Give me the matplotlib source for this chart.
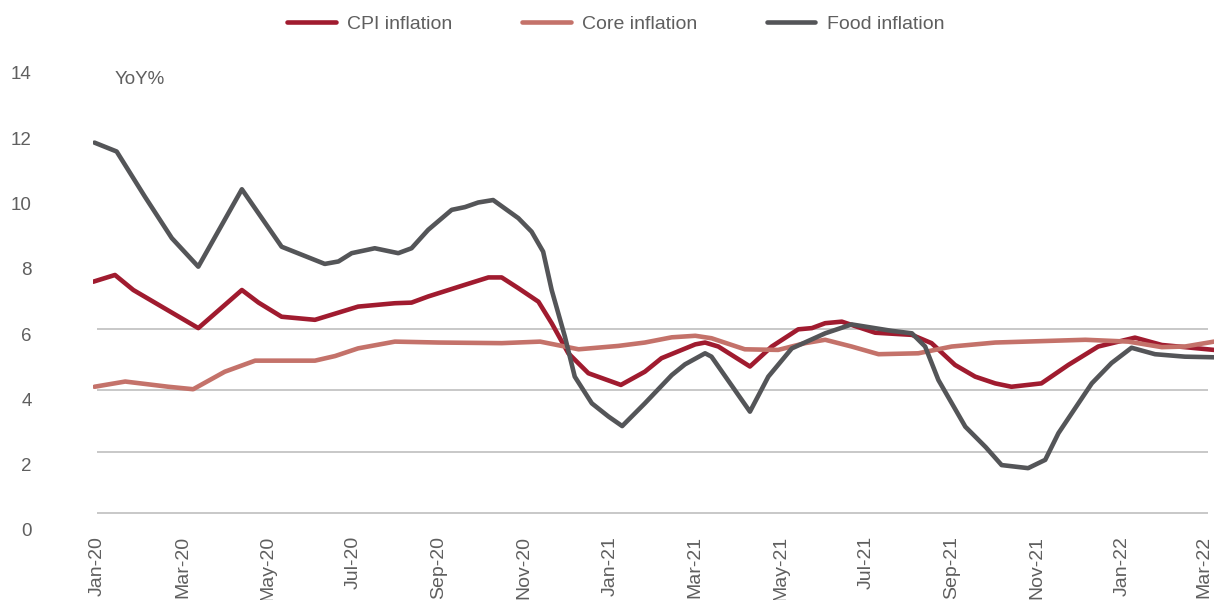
import numpy as np
import matplotlib.pyplot as plt
from matplotlib.transforms import ScaledTranslation

# month index from Jan-20 (0) to Mar-22 (26)
tick_pos = list(range(0, 27, 2))
tick_labels = ['Jan-20', 'Mar-20', 'May-20', 'Jul-20', 'Sep-20', 'Nov-20', 'Jan-21',
               'Mar-21', 'May-21', 'Jul-21', 'Sep-21', 'Nov-21', 'Jan-22', 'Mar-22']

cpi_x = [-0.09, 0.42, 0.85, 2.37, 3.39, 3.78, 4.32, 5.1, 6.11, 6.97, 7.36, 7.75, 8.61,
         9.16, 9.47, 9.86, 10.33, 10.64, 11.03, 11.5, 12.26, 12.82, 13.21, 14.0, 14.23,
         14.54, 15.28, 15.79, 16.41, 16.73, 17.04, 17.43, 18.21, 19.07, 19.53, 20.08,
         20.55, 21.02, 21.4, 22.1, 22.73, 23.43, 24.29, 24.92, 25.46, 26.14]
cpi_y = [7.54, 7.76, 7.27, 6.03, 7.27, 6.86, 6.4, 6.3, 6.73, 6.84, 6.86, 7.06, 7.44,
         7.68, 7.68, 7.33, 6.89, 6.19, 5.21, 4.56, 4.18, 4.61, 5.05, 5.5, 5.56,
         5.43, 4.78, 5.43, 5.99, 6.03, 6.19, 6.24, 5.88, 5.81, 5.54, 4.83,
         4.45, 4.23, 4.12, 4.23, 4.83, 5.43, 5.72, 5.48, 5.41, 5.32]

core_x = [-0.06, 0.66, 1.67, 2.25, 2.99, 3.7, 5.1, 5.57, 6.11, 6.97, 8.0, 9.47, 10.37,
          11.27, 12.2, 12.82, 13.45, 14.0, 14.38, 15.16, 15.94, 16.57, 17.04, 17.66,
          18.29, 19.22, 20.0, 21.02, 23.13, 24.14, 24.92, 25.46, 26.14]
core_y = [4.12, 4.29, 4.12, 4.04, 4.61, 4.97, 4.97, 5.12, 5.37, 5.59, 5.56, 5.54, 5.59,
          5.34, 5.45, 5.56, 5.73, 5.78, 5.7, 5.34, 5.32, 5.54, 5.65, 5.43,
          5.18, 5.21, 5.43, 5.56, 5.65, 5.59, 5.41, 5.43, 5.59]

food_x = [-0.06, 0.46, 1.12, 1.75, 2.37, 3.39, 4.32, 5.33, 5.65, 5.96, 6.5, 7.05, 7.36,
          7.75, 8.3, 8.61, 8.92, 9.27, 9.86, 10.17, 10.44, 10.64, 10.95, 11.18, 11.58,
          11.97, 12.29, 12.82, 13.45, 13.76, 14.23, 14.38, 15.28, 15.71, 16.26, 17.04,
          17.66, 18.6, 19.07, 19.38, 19.69, 20.32, 20.8, 21.17, 21.79, 22.19, 22.5,
          23.28, 23.74, 24.21, 24.76, 25.46, 26.14]
food_y = [12.07, 11.78, 10.31, 8.96, 8.03, 10.55, 8.68, 8.12, 8.2, 8.47, 8.63, 8.47, 8.63,
          9.23, 9.88, 9.97, 10.12, 10.2, 9.61, 9.17, 8.52, 7.27, 5.75, 4.45, 3.58,
          3.15, 2.84, 3.58, 4.5, 4.85, 5.21, 5.1, 3.31, 4.45, 5.37, 5.86,
          6.15, 5.94, 5.86, 5.43, 4.34, 2.82, 2.15, 1.57, 1.47, 1.74, 2.61,
          4.23, 4.89, 5.39, 5.18, 5.1, 5.08]

grid_vals = [0, 2, 4, 6]
label_vals = list(range(0, 15, 2))

txt = '#5f5f5f'
plt.rcParams['font.family'] = ['Liberation Sans', 'DejaVu Sans']

fig = plt.figure(figsize=(12.14, 6), dpi=100)
ax = fig.add_axes([0.0764, 0.1138, 0.9236, 0.7729])

ax.hlines(grid_vals, 0, 26, color='#bfbfbf', lw=1.2, zorder=1)

ax.plot(cpi_x, cpi_y, color='#a01b2f', lw=3.3, solid_joinstyle='round',
        solid_capstyle='round', label='CPI inflation', zorder=3)
ax.plot(core_x, core_y, color='#c4726a', lw=3.3, solid_joinstyle='round',
        solid_capstyle='round', label='Core inflation', zorder=3)
ax.plot(food_x, food_y, color='#545558', lw=3.3, solid_joinstyle='round',
        solid_capstyle='round', label='Food inflation', zorder=4)

ax.set_xlim(-0.1, 26.14)
ax.set_ylim(-0.6, 14.5)
for s in ax.spines.values():
    s.set_visible(False)
ax.set_yticks([])
ax.set_xticks(tick_pos)
ax.set_xticklabels(tick_labels, rotation=90, fontsize=14, color=txt)
ax.tick_params(axis='x', length=0, pad=3)
# nudge the last label so it stays inside the figure
last = ax.get_xticklabels()[-1]
last.set_transform(last.get_transform() + ScaledTranslation(-4 / 100, 0, fig.dpi_scale_trans))

# value labels sit on a slightly different scale than the gridlines
sec = ax.secondary_yaxis('left', functions=(lambda d: (30.7 * d + 16.7) / 32.64,
                                             lambda v: (32.64 * v - 16.7) / 30.7))
sec.set_yticks(label_vals)
sec.tick_params(length=0, pad=44, labelsize=13.5, labelcolor=txt)
sec.spines['left'].set_visible(False)

fig.text(115 / 1214, 1 - 79 / 600, 'YoY%', fontsize=13.5, color=txt, va='center')

fig.legend(loc='center', bbox_to_anchor=(0.507, 0.96), ncol=3, frameon=False,
           fontsize=14, labelcolor=txt, handlelength=2.5, handletextpad=0.57,
           columnspacing=3.6)

fig.savefig('out.png', dpi=100)
